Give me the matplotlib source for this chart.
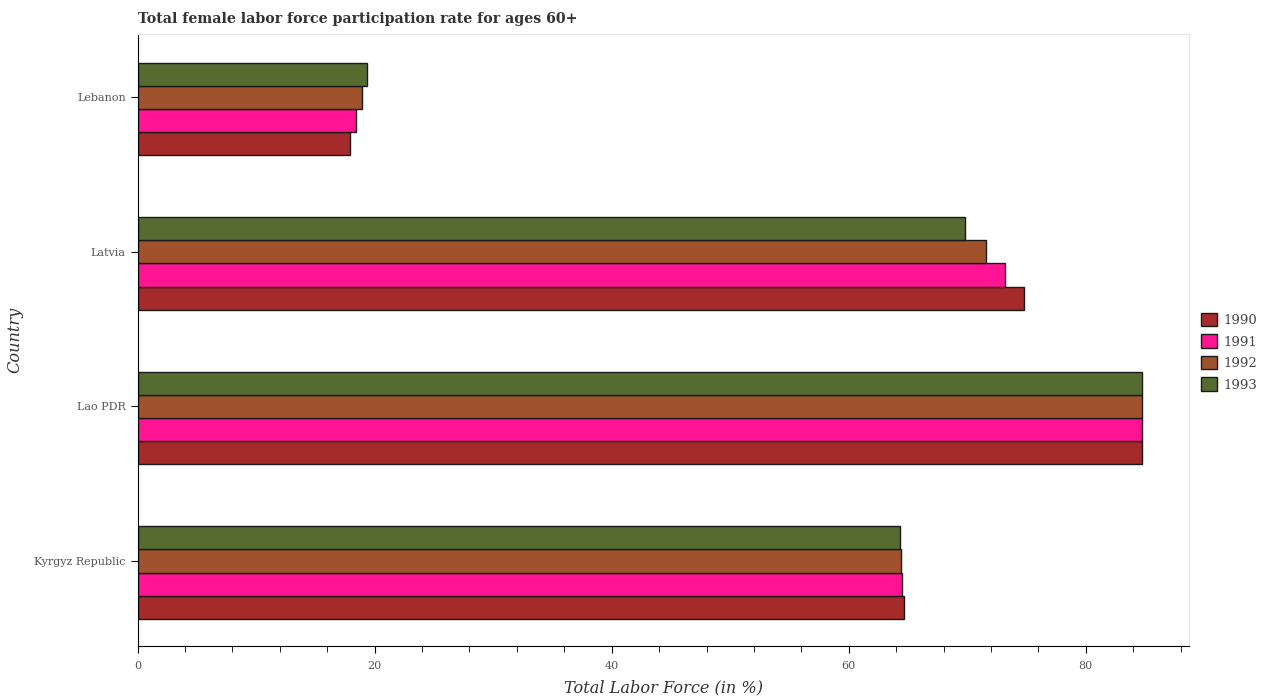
import numpy as np
import matplotlib
matplotlib.use("Agg")
import matplotlib.pyplot as plt

countries = ["Kyrgyz Republic", "Lao PDR", "Latvia", "Lebanon"]
years = ["1990", "1991", "1992", "1993"]
v1990 = [64.7, 84.7, 74.8, 17.9]
v1991 = [64.5, 84.7, 73.2, 18.4]
v1992 = [64.4, 84.7, 71.6, 18.9]
v1993 = [64.3, 84.7, 69.8, 19.4]
colors = ["#a52a2a", "#ff1493", "#a0522d", "#556b2f"]

plt.rcParams["font.family"] = ["DejaVu Serif"]

fig = plt.figure(figsize=(12.65, 7), dpi=100)
ax = fig.add_axes([137.5 / 1265, 54 / 700, (1189 - 137.5) / 1265, (646 - 34) / 700])

y = np.arange(len(countries))
h = 0.15
for i, (yr, vals) in enumerate(zip(years, [v1990, v1991, v1992, v1993])):
    ax.barh(y + (i - 2) * h, vals, height=h, color=colors[i], edgecolor="#1a1a1a",
            linewidth=1, label=yr)

ax.set_xlim(0, 88.7)
ax.set_ylim(-0.55, 3.41)
ax.set_yticks(y)
ax.set_yticklabels(countries)
ax.set_xticks(np.arange(0, 81, 20))
ax.set_xticks(np.arange(0, 89, 4), minor=True)
ax.tick_params(axis="both", labelsize=8, labelcolor="#555555", color="black")
ax.tick_params(axis="x", which="major", length=5, pad=6)
ax.tick_params(axis="x", which="minor", length=4)
ax.tick_params(axis="y", length=5)

for s in ["top", "right"]:
    ax.spines[s].set_color("#e6e6e6")
for s in ["left", "bottom"]:
    ax.spines[s].set_color("black")

ax.set_xlabel("Total Labor Force (in %)", fontsize=11.6, style="italic", color="#333333", labelpad=6)
ax.set_ylabel("Country", fontsize=11.6, style="italic", color="#333333", labelpad=8)
ax.set_title("Total female labor force participation rate for ages 60+", loc="left",
             fontsize=10.2, fontweight="bold", color="#333333", pad=8)

ax.legend(loc="center left", bbox_to_anchor=(1.0, 0.48), frameon=False, fontsize=9.5,
          labelcolor="#444444", handlelength=1.2, handleheight=1.2, handletextpad=0.5,
          labelspacing=0.55)

fig.savefig("out.png", dpi=100)
